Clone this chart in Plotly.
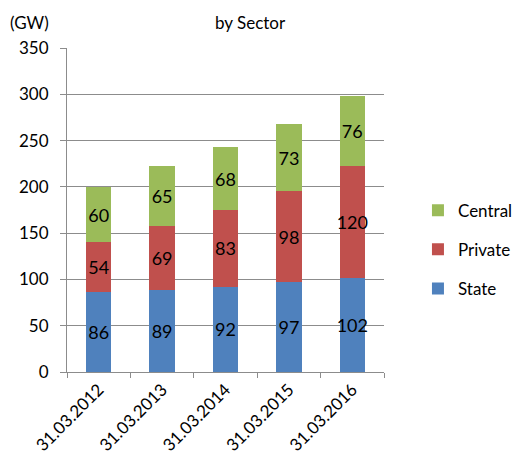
import plotly.graph_objects as go

dates = ["31.03.2012", "31.03.2013", "31.03.2014", "31.03.2015", "31.03.2016"]
state = [86, 89, 92, 97, 102]
private = [54, 69, 83, 98, 120]
central = [60, 65, 68, 73, 76]
y_ticks = [0, 50, 100, 150, 200, 250, 300, 350]

FONT = "Lato"
GRID = "#8c8c8c"

# (name, values, colour, legend position)
series = [
    ("State", state, "#4F81BD", 3),
    ("Private", private, "#C0504D", 2),
    ("Central", central, "#9BBB59", 1),
]

fig = go.Figure()
for name, vals, color, rank in series:
    fig.add_trace(go.Bar(
        x=dates, y=vals, name=name, legendgroup=name, legendrank=rank,
        marker=dict(color=color, line=dict(width=0)),
        text=vals, textposition="inside", insidetextanchor="middle",
        textangle=0, texttemplate="%{y}",
        textfont=dict(family=FONT, size=18, color="black"),
        hoverinfo="skip",
    ))

fig.update_layout(
    barmode="stack",
    bargap=0.6,
    width=516, height=472,
    margin=dict(l=67, r=132, t=48, b=100, autoexpand=False),
    paper_bgcolor="white", plot_bgcolor="white",
    font=dict(family=FONT, size=17, color="black"),
    uniformtext=dict(mode="show", minsize=18),
    showlegend=True,
    legend=dict(
        xref="container", yref="container",
        x=0.81, y=0.471, xanchor="left", yanchor="middle",
        traceorder="grouped", tracegroupgap=14,
        font=dict(family=FONT, size=17), itemwidth=30,
        bgcolor="rgba(0,0,0,0)",
    ),
    xaxis=dict(
        type="category", tickangle=-45, tickson="boundaries",
        ticks="outside", ticklen=5, tickcolor=GRID, tickwidth=1,
        showline=True, linecolor=GRID, linewidth=1,
        showgrid=False, tickfont=dict(family=FONT, size=17),
    ),
    yaxis=dict(
        range=[0, 350], tickvals=y_ticks, ticks="outside", ticklen=6,
        tickcolor=GRID, showline=True, linecolor=GRID, linewidth=1,
        showgrid=True, gridcolor=GRID, gridwidth=1, zeroline=False,
        ticklabelstandoff=8,
        tickfont=dict(family=FONT, size=17),
    ),
    annotations=[
        dict(text="by Sector", xref="paper", yref="paper", x=0.58, y=1.0,
             yshift=26, yanchor="middle", showarrow=False, xanchor="center",
             font=dict(family=FONT, size=17)),
        dict(text="(GW)", xref="paper", yref="paper", x=0, y=1.0,
             xshift=-59, yshift=26, yanchor="middle", showarrow=False,
             xanchor="left", font=dict(family=FONT, size=17)),
    ],
)

fig.write_html("out.html")
